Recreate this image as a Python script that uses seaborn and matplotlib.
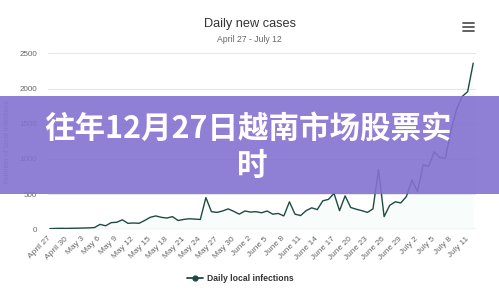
import numpy as np
import pandas as pd
import matplotlib
matplotlib.use("Agg")
import matplotlib.pyplot as plt
from matplotlib.patches import Rectangle
from matplotlib.lines import Line2D
import seaborn as sns

# Daily local infections, April 27 - July 12
cases = [
    10, 12, 14, 13, 15, 16, 18, 20, 25, 70,
    50, 95, 100, 135, 85, 90, 85, 125, 170, 190,
    170, 160, 180, 125, 140, 150, 145, 140, 450, 250,
    240, 260, 290, 255, 215, 260, 245, 250, 235, 260,
    215, 225, 190, 390, 215, 195, 265, 305, 280, 405,
    425, 510, 265, 475, 310, 285, 265, 240, 290, 850,
    180, 340, 390, 375, 465, 700, 535, 915, 895, 1100,
    1020, 1010, 1400, 1700, 1885, 1955, 2360,
]

# x-axis labels, one every third day
tick_labels = [
    "April 27", "April 30", "May 3", "May 6", "May 9", "May 12", "May 15",
    "May 18", "May 21", "May 24", "May 27", "May 30", "June 2", "June 5",
    "June 8", "June 11", "June 14", "June 17", "June 20", "June 23",
    "June 26", "June 29", "July 2", "July 5", "July 8", "July 11",
]
y_ticks = [0, 500, 1000, 1500, 2000, 2500]

title = "Daily new cases"
subtitle = "April 27 - July 12"
series_name = "Daily local infections"
y_title = "Number of local infections"
banner_line1 = "往年12月27日越南市场股票实"
banner_line2 = "时"

sns.set_theme(style="white")
plt.rcParams["font.family"] = ["Liberation Sans", "DejaVu Sans"]

W, H = 499, 291
line_color = "#1f4a42"

df = pd.DataFrame({"day": np.arange(len(cases)), "cases": cases})

fig = plt.figure(figsize=(W / 100, H / 100), dpi=100)
fig.patch.set_facecolor("white")
ax = fig.add_axes([48 / W, 1 - 229.3 / H, (476 - 48) / W, (229.3 - 53.3) / H])
ax.set_facecolor("white")

# faint area under the series
ax.fill_between(df["day"], df["cases"], color="#d5f2f0", alpha=0.15, lw=0)
sns.lineplot(data=df, x="day", y="cases", color=line_color, lw=1.0, ax=ax)

ax.set_xlim(-0.35, 76.5)
ax.set_ylim(0, 2500)
ax.set_yticks(y_ticks)
ax.set_yticklabels([str(v) for v in y_ticks], fontsize=5.8, color="#666666")
ax.yaxis.grid(True, color="#e6e6e6", lw=0.8)
ax.xaxis.grid(False)
for s in ax.spines.values():
    s.set_visible(False)
ax.axhline(0, color="#d8d8d8", lw=1.0, zorder=1)
ax.tick_params(axis="y", length=0, pad=8)

ax.set_xticks(np.arange(len(tick_labels)) * 3)
ax.set_xticklabels(tick_labels, rotation=45, ha="right", va="center",
                   rotation_mode="anchor", fontsize=6, color="#666666")
ax.tick_params(axis="x", length=0, pad=6)

ax.set_xlabel("")
ax.set_ylabel(y_title, fontsize=5.2, color="#8a8a8a")
ax.yaxis.set_label_coords(-(48 - 11) / (476 - 48), 0.5)

fig.text(0.5, 1 - 24 / H, title, ha="center", va="center",
         fontsize=9.2, color="#333333")
fig.text(0.5, 1 - 40 / H, subtitle, ha="center", va="center",
         fontsize=6.2, color="#666666")

# menu icon
for yy in (22.7, 26.7, 30.7):
    fig.add_artist(Line2D([462.7 / W, 474.3 / W], [1 - yy / H] * 2,
                          color="#555555", lw=1.3, transform=fig.transFigure))

handle = Line2D([], [], color=line_color, marker="o", markersize=3.5, lw=1.3)
leg = fig.legend(handles=[handle], labels=[series_name], loc="center",
                 bbox_to_anchor=(0.482, 1 - 278.3 / H), frameon=False,
                 prop={"weight": "bold", "size": 6.2},
                 handlelength=1.8, handletextpad=0.5)
for t in leg.get_texts():
    t.set_color("#333333")

# headline banner across the chart
fig.add_artist(Rectangle((0, 1 - 194 / H), 1, 98 / H, transform=fig.transFigure,
                         facecolor="#8371d1", alpha=0.9, edgecolor="none",
                         zorder=10))
fig.text(0.497, 1 - 129 / H, banner_line1, ha="center", va="center",
         fontsize=22, color="white", fontweight="heavy",
         family=["Noto Sans CJK SC", "DejaVu Sans"], zorder=11)
fig.text(0.505, 1 - 166 / H, banner_line2, ha="center", va="center",
         fontsize=22, color="white", fontweight="heavy",
         family=["Noto Sans CJK SC", "DejaVu Sans"], zorder=11)

fig.savefig("out.png", dpi=100)
